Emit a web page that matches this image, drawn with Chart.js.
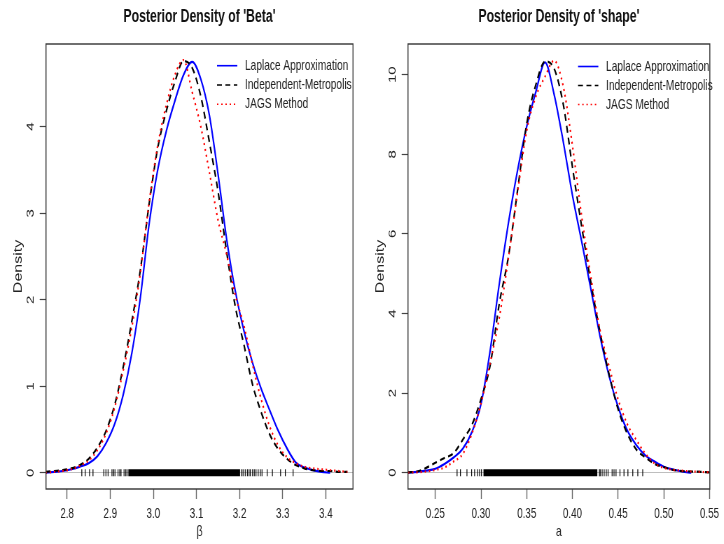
<!DOCTYPE html>
<html>
<head>
<meta charset="utf-8">
<script src="https://cdn.jsdelivr.net/npm/chart.js@4.4.1/dist/chart.umd.min.js"></script>
<style>
  body { margin: 0; background: #fff; width: 724px; height: 544px; overflow: hidden; position: relative; }
  /* the original png is an R plot squeezed sideways, so each panel is drawn wide and scaled */
  .panel { position: absolute; top: 0; width: 517px; height: 544px; transform: scaleX(0.7); transform-origin: 0 0; }
  canvas { display: block; }
</style>
</head>
<body>
<div class="panel" style="left:0"><canvas id="betaChart" width="517" height="544"></canvas></div>
<div class="panel" style="left:362px"><canvas id="shapeChart" width="517" height="544"></canvas></div>
<script>
// ---- Beta panel ----
const betaX = [2.75, 2.77, 2.79, 2.81, 2.83, 2.85, 2.87, 2.89, 2.91, 2.93, 2.95, 2.97, 2.99, 3.01, 3.03, 3.05, 3.07, 3.09,
               3.11, 3.13, 3.15, 3.17, 3.19, 3.21, 3.23, 3.25, 3.27, 3.29, 3.31, 3.33, 3.35, 3.37, 3.39, 3.41, 3.43, 3.45];
const betaLaplace = [0.00, 0.01, 0.02, 0.04, 0.07, 0.11, 0.19, 0.34, 0.56, 0.90, 1.38, 2.03, 2.87, 3.50, 3.95, 4.30, 4.60, 4.75,
                     4.55, 4.13, 3.45, 2.70, 2.10, 1.64, 1.27, 0.97, 0.72, 0.48, 0.28, 0.12, 0.06, 0.03, 0.01, 0.00, null, null];
const betaIM = [0.01, 0.02, 0.03, 0.05, 0.09, 0.16, 0.29, 0.48, 0.78, 1.22, 1.75, 2.35, 3.10, 3.75, 4.18, 4.52, 4.76, 4.68,
                4.35, 3.82, 3.25, 2.55, 1.92, 1.48, 1.02, 0.70, 0.44, 0.27, 0.16, 0.09, 0.05, 0.03, 0.02, 0.02, 0.01, 0.01];
const betaJAGS = [0.00, 0.01, 0.02, 0.04, 0.08, 0.14, 0.26, 0.45, 0.75, 1.18, 1.68, 2.32, 3.12, 3.78, 4.25, 4.60, 4.77, 4.40,
                  4.00, 3.47, 2.92, 2.52, 2.05, 1.70, 1.25, 0.85, 0.53, 0.31, 0.18, 0.11, 0.07, 0.05, 0.04, 0.03, 0.02, 0.01];
const betaRug = [2.834, 2.842, 2.852, 2.860, 2.885, 2.890, 2.895, 2.904, 2.908, 2.911, 2.918, 2.922, 2.925, 2.932, 2.936, 2.939,
                 3.204, 3.208, 3.213, 3.218, 3.222, 3.225, 3.230, 3.234, 3.238, 3.243, 3.248, 3.252, 3.264, 3.276, 3.295, 3.306, 3.324];
const betaRugBand = [2.942, 3.201];
const betaXTicks = [2.8, 2.9, 3.0, 3.1, 3.2, 3.3, 3.4];
const betaYTicks = [0, 1, 2, 3, 4];

// ---- shape panel ----
const shapeX = [0.22, 0.23, 0.24, 0.25, 0.26, 0.27, 0.28, 0.29, 0.30, 0.31, 0.32, 0.33, 0.34, 0.35, 0.36, 0.37, 0.38,
                0.39, 0.40, 0.41, 0.42, 0.43, 0.44, 0.45, 0.46, 0.47, 0.48, 0.49, 0.50, 0.51, 0.52, 0.53, 0.54, 0.55];
const shapeLaplace = [0.00, 0.02, 0.05, 0.10, 0.22, 0.38, 0.60, 1.02, 1.73, 3.07, 4.75, 6.28, 7.60, 8.70, 9.57, 10.31, 9.50,
                      8.31, 6.97, 5.82, 4.63, 3.45, 2.44, 1.65, 1.06, 0.69, 0.43, 0.28, 0.15, 0.08, 0.03, 0.00, null, null];
const shapeIM = [0.01, 0.03, 0.12, 0.25, 0.37, 0.49, 0.83, 1.20, 1.85, 2.70, 4.25, 5.43, 7.10, 8.77, 9.75, 10.33, 10.15,
                 9.25, 7.68, 6.20, 4.80, 3.55, 2.48, 1.59, 0.98, 0.58, 0.38, 0.22, 0.14, 0.07, 0.04, 0.03, 0.02, 0.01];
const shapeJAGS = [0.00, 0.01, 0.03, 0.07, 0.13, 0.28, 0.47, 0.98, 1.74, 2.76, 3.90, 5.40, 7.05, 8.60, 9.45, 9.95, 10.35,
                   9.70, 8.22, 6.46, 4.94, 3.60, 2.68, 1.84, 1.22, 0.82, 0.47, 0.23, 0.12, 0.07, 0.05, 0.03, 0.02, 0.01];
const shapeRug = [0.2738, 0.2775, 0.2846, 0.2897, 0.2930, 0.2962, 0.2984, 0.3005, 0.4295, 0.4304, 0.4325, 0.4347, 0.4370,
                  0.4390, 0.4434, 0.4455, 0.4477, 0.4520, 0.4564, 0.4607, 0.4660, 0.4715, 0.4769];
const shapeRugBand = [0.3027, 0.4272];
const shapeXTicks = [0.25, 0.30, 0.35, 0.40, 0.45, 0.50, 0.55];
const shapeYTicks = [0, 2, 4, 6, 8, 10];

const seriesLabels = ['Laplace Approximation', 'Independent-Metropolis', 'JAGS Method'];

const FONT = "'Liberation Sans', Arial, sans-serif";
Chart.defaults.font.family = FONT;
Chart.defaults.color = '#222';

// box around the plot + legend without a box (bty = "n")
const rStyle = {
    id: 'rStyle',
    afterDraw(chart, args, opts) {
        const { ctx, chartArea: a } = chart;
        ctx.save();
        ctx.strokeStyle = '#333';
        ctx.lineWidth = 1.4;
        ctx.strokeRect(a.left, a.top, a.right - a.left, a.bottom - a.top);

        ctx.font = '14.5px ' + FONT;
        ctx.textBaseline = 'middle';
        chart.data.datasets.forEach((ds, i) => {
            if (!ds.inLegend) return;
            const y = opts.y + i * opts.dy;
            ctx.strokeStyle = ds.borderColor;
            ctx.lineWidth = 1.6;
            ctx.setLineDash(ds.legendDash);
            ctx.beginPath();
            ctx.moveTo(opts.x, y);
            ctx.lineTo(opts.x + 29, y);
            ctx.stroke();
            ctx.setLineDash([]);
            ctx.fillStyle = '#222';
            ctx.fillText(ds.label, opts.x + 40, y);
        });
        ctx.restore();
    }
};

function densityChart(id, cfg) {
    const curve = (i, values, color, dash, order) => ({
        label: seriesLabels[i],
        data: cfg.x.map((x, k) => ({ x: x, y: values[k] })),
        borderColor: color,
        borderWidth: 2.2,
        borderDash: dash,
        legendDash: dash,
        inLegend: true,
        pointRadius: 0,
        cubicInterpolationMode: 'monotone',
        spanGaps: false,
        order: order
    });

    return new Chart(document.getElementById(id), {
        type: 'line',
        data: {
            datasets: [
                curve(0, cfg.laplace, '#0000ff', [], 2),
                curve(1, cfg.im, '#000000', [7, 5], 1),
                curve(2, cfg.jags, '#ff0000', [2, 4], 0),
                {
                    label: 'rug',
                    data: cfg.rug.map(x => ({ x: x, y: 0 })),
                    showLine: false,
                    pointStyle: 'line',
                    pointRotation: 90,
                    pointRadius: 3.5,
                    pointBorderColor: '#000',
                    pointBorderWidth: 1.2,
                    order: 3
                },
                {
                    label: 'rug band',
                    data: cfg.band.map(x => ({ x: x, y: 0 })),
                    borderColor: '#000',
                    borderWidth: 7,
                    borderCapStyle: 'butt',
                    pointRadius: 0,
                    order: 3
                }
            ]
        },
        options: {
            responsive: false,
            animation: false,
            events: [],
            layout: { autoPadding: false, padding: { top: 0, left: 0, bottom: 0, right: cfg.padRight } },
            plugins: {
                legend: { display: false },
                tooltip: { enabled: false },
                title: {
                    display: true,
                    text: cfg.title,
                    fullSize: false,
                    color: '#111',
                    font: { size: 17.5, weight: 'bold' },
                    padding: { top: 6.8, bottom: 16.2 }
                },
                rStyle: cfg.legend
            },
            scales: {
                x: {
                    type: 'linear',
                    min: cfg.xMin,
                    max: cfg.xMax,
                    afterBuildTicks: s => { s.ticks = cfg.xTicks.map(v => ({ value: v })); },
                    afterFit: s => { s.height = 55; },
                    grid: { drawOnChartArea: false, tickLength: 10, tickColor: '#666', tickWidth: 1.4 },
                    border: { display: false },
                    ticks: { autoSkip: false, maxRotation: 0, padding: 6.9, font: { size: 14 },
                             callback: v => v.toFixed(cfg.xDigits) },
                    title: { display: true, text: cfg.xTitle, font: { size: 15 }, padding: { top: 0, bottom: 3.3 } }
                },
                y: {
                    type: 'linear',
                    min: cfg.yMin,
                    max: cfg.yMax,
                    afterBuildTicks: s => { s.ticks = cfg.yTicks.map(v => ({ value: v })); },
                    afterFit: s => { s.width = 65.7; },
                    grid: {
                        color: c => (c.tick && c.tick.value === 0) ? '#bebebe' : 'rgba(0,0,0,0)',
                        tickLength: 9, tickColor: '#444', tickWidth: 1.2
                    },
                    border: { display: false },
                    ticks: { autoSkip: false, minRotation: 90, maxRotation: 90, crossAlign: 'center',
                             padding: cfg.yPad, font: { size: 15 }, callback: v => String(v) },
                    title: { display: true, text: 'Density', font: { size: 16 }, padding: { top: 16.6, bottom: 0 } }
                }
            }
        },
        plugins: [rStyle]
    });
}

densityChart('betaChart', {
    title: "Posterior Density of 'Beta'",
    x: betaX, laplace: betaLaplace, im: betaIM, jags: betaJAGS,
    rug: betaRug, band: betaRugBand,
    xTicks: betaXTicks, yTicks: betaYTicks, xDigits: 1, xTitle: 'β',
    xMin: 2.751, xMax: 3.463, yMin: -0.188, yMax: 4.956,
    padRight: 12.7, yPad: 8.2,
    legend: { x: 310, y: 65.7, dy: 19.3 }
});

densityChart('shapeChart', {
    title: "Posterior Density of 'shape'",
    x: shapeX, laplace: shapeLaplace, im: shapeIM, jags: shapeJAGS,
    rug: shapeRug, band: shapeRugBand,
    xTicks: shapeXTicks, yTicks: shapeYTicks, xDigits: 2, xTitle: 'a',
    xMin: 0.2201, xMax: 0.5503, yMin: -0.41, yMax: 10.77,
    padRight: 14.1, yPad: 4.1,
    legend: { x: 308.6, y: 66.5, dy: 19 }
});
</script>
</body>
</html>
